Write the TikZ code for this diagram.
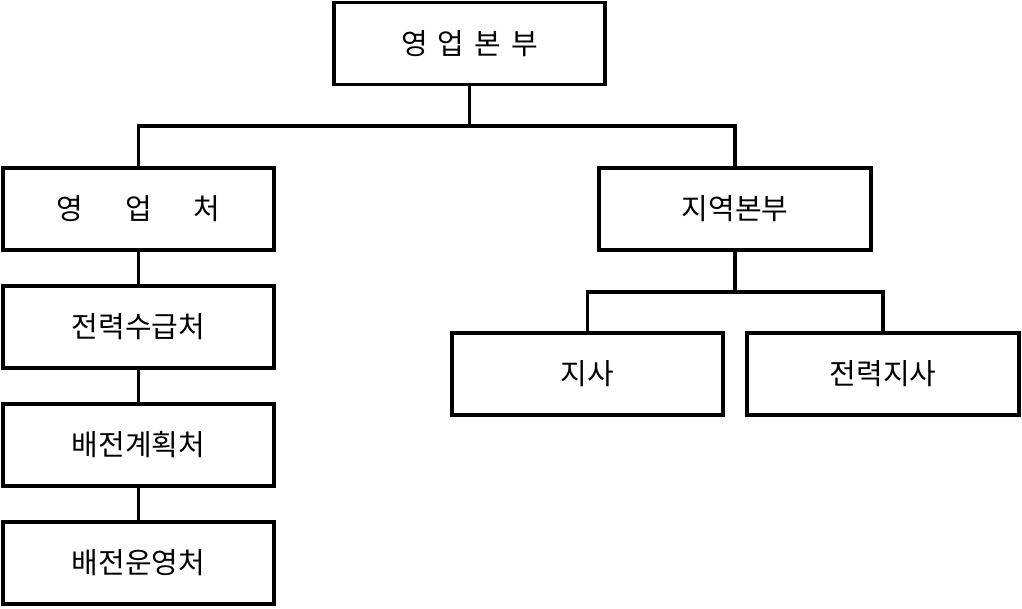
\documentclass[tikz,border=0pt]{standalone}
\usepackage{fontspec}
\newfontfamily\cjk{Noto Sans CJK KR}
\begin{document}
\begin{tikzpicture}[x=1pt,y=-1pt,line width=3.2pt,
  box/.style={draw,rectangle,minimum width=271pt,minimum height=82pt,font=\cjk\fontsize{29}{34}\selectfont,inner sep=0pt}]
\useasboundingbox (0,0) rectangle (1022,608);
\node[box] (hq) at (469.5,43.5) {영\hspace{10pt}업\hspace{10pt}본\hspace{10pt}부};
\node[box] (s) at (138.5,209) {영\hspace{42pt}업\hspace{42pt}처};
\node[box] (p) at (138.5,327) {전력수급처};
\node[box] (d) at (138.5,445) {배전계획처};
\node[box] (o) at (138.5,563) {배전운영처};
\node[box,minimum width=272pt] (r) at (735,209) {지역본부};
\node[box] (b) at (587.5,374) {지사};
\node[box,minimum width=272pt] (e) at (883,374) {전력지사};
\coordinate (j1) at (469.5,126);
\coordinate (j2) at (735,292);
\draw (hq.south) -- (j1);
\draw[line cap=rect] (s.north) -- (s.north |- j1) -- (r.north |- j1) -- (r.north);
\draw (s) -- (p) (p) -- (d) (d) -- (o);
\draw (r.south) -- (j2);
\draw[line cap=rect] (b.north) -- (b.north |- j2) -- (e.north |- j2) -- (e.north);
\end{tikzpicture}
\end{document}
